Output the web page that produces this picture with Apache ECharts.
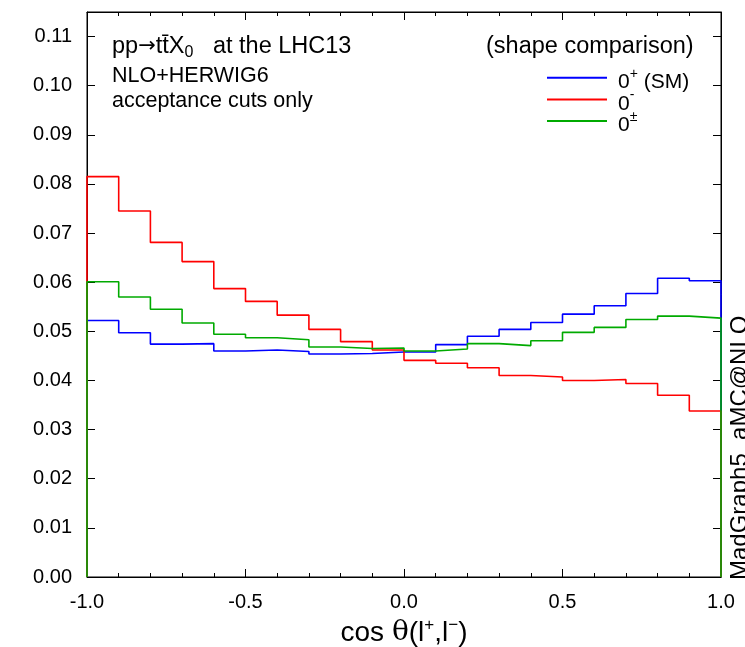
<!DOCTYPE html>
<html><head><meta charset="utf-8">
<script src="https://cdn.jsdelivr.net/npm/echarts@6/dist/echarts.min.js"></script>
<style>html,body{margin:0;padding:0;background:#fff}#c{width:745px;height:647px}</style>
</head><body><div id="c"></div>
<script>
const binEdges = [-1.0,-0.9,-0.8,-0.7,-0.6,-0.5,-0.4,-0.3,-0.2,-0.1,0.0,0.1,0.2,0.3,0.4,0.5,0.6,0.7,0.8,0.9,1.0];
const sm    = [0.0522,0.0497,0.0474,0.0475,0.0460,0.0462,0.0459,0.0454,0.0455,0.0458,0.0458,0.0473,0.0490,0.0504,0.0518,0.0535,0.0552,0.0577,0.0608,0.0603];
const minus = [0.0815,0.0745,0.0681,0.0642,0.0587,0.0561,0.0533,0.0504,0.0479,0.0462,0.0441,0.0435,0.0426,0.0410,0.0407,0.0400,0.0402,0.0394,0.0370,0.0338];
const mixed = [0.0601,0.0570,0.0545,0.0517,0.0494,0.0487,0.0483,0.0468,0.0465,0.0466,0.0460,0.0464,0.0475,0.0471,0.0481,0.0498,0.0508,0.0524,0.0531,0.0527];
const yTicks = ['0.00','0.01','0.02','0.03','0.04','0.05','0.06','0.07','0.08','0.09','0.10','0.11'];
const xTicks = ['-1.0','-0.5','0.0','0.5','1.0'];

function histPts(vals){
  const pts=[[binEdges[0],0]];
  for(let i=0;i<vals.length;i++) pts.push([binEdges[i+1],vals[i]]);
  pts.push([binEdges[binEdges.length-1],0]);
  return pts;
}
const FONT='Liberation Sans';
const chart=echarts.init(document.getElementById('c'));
const legRich={
  s:{width:0,lineHeight:30,verticalAlign:'top'},
  g:{width:6,lineHeight:22,verticalAlign:'bottom'},
  n:{fontSize:21,lineHeight:22,verticalAlign:'bottom',fontFamily:FONT,color:'#000'},
  sup:{fontSize:14,verticalAlign:'top',padding:[4,0,0,0],fontFamily:FONT,color:'#000'}
};
const axBase={
  type:'value',min:-1,max:1,interval:0.5,
  axisLine:{show:true,onZero:false,lineStyle:{color:'#000',width:1}},
  axisTick:{show:true,inside:true,length:8,lineStyle:{color:'#000'}},
  minorTick:{show:true,splitNumber:5,length:4,lineStyle:{color:'#000'}},
  splitLine:{show:false},minorSplitLine:{show:false}
};
const ayBase={
  type:'value',min:0,max:0.115,interval:0.01,
  axisLine:{show:true,onZero:false,lineStyle:{color:'#000',width:1}},
  axisTick:{show:true,inside:true,length:8,lineStyle:{color:'#000'}},
  splitLine:{show:false}
};
chart.setOption({
  animation:false,
  backgroundColor:'#fff',
  grid:{left:87,right:24,top:12,bottom:70,containLabel:false,outerBoundsMode:'none',show:true,borderColor:'#000',borderWidth:1,backgroundColor:'transparent'},
  title:[
    {text:'pp{ar|→}tt̄X{sub|0}   at the LHC13',left:112,top:33,padding:0,
     textStyle:{fontSize:23.5,lineHeight:28,fontWeight:'normal',fontFamily:FONT,color:'#000',
       rich:{ar:{fontSize:21,lineHeight:28,fontFamily:'DejaVu Sans',color:'#000'},
             sub:{fontSize:16,lineHeight:10,verticalAlign:'bottom',fontFamily:FONT,color:'#000'}}}},
    {text:'(shape comparison)',left:486,top:33,padding:0,
     textStyle:{fontSize:23.5,lineHeight:28,fontWeight:'normal',fontFamily:FONT,color:'#000'}},
    {text:'NLO+HERWIG6\nacceptance cuts only',left:112,top:64,padding:0,
     textStyle:{fontSize:21.5,lineHeight:25,fontWeight:'normal',fontFamily:FONT,color:'#000'}}
  ],
  legend:{
    orient:'vertical',left:547,top:62.7,padding:0,itemWidth:60,itemHeight:2,itemGap:-8.3,icon:'rect',
    data:['sm','minus','mixed'],
    formatter:function(n){
      if(n==='sm') return '{s|}{g|}{n|0}{sup|+}{n| (SM)}';
      if(n==='minus') return '{s|}{g|}{n|0}{sup|-}';
      return '{s|}{g|}{n|0}{sup|±}';
    },
    textStyle:{fontSize:21,fontFamily:FONT,color:'#000',rich:legRich}
  },
  xAxis:[
    Object.assign({},axBase,{position:'bottom',
      name:'cos {th|θ}(l{sup|+},l{sup|−})',nameLocation:'middle',nameGap:38,
      nameTextStyle:{fontSize:28,lineHeight:32,fontFamily:FONT,color:'#000',
        rich:{th:{fontSize:28,lineHeight:32,fontFamily:'DejaVu Serif',color:'#000'},
              sup:{fontSize:17,lineHeight:14,verticalAlign:'top',fontFamily:FONT,color:'#000'}}},
      axisLabel:{show:true,margin:15,fontSize:20,fontFamily:FONT,color:'#000',
        formatter:function(v){const i=Math.round((v+1)/0.5);return xTicks[i]!==undefined && Math.abs(v-(-1+i*0.5))<1e-6?xTicks[i]:'';}}}),
    Object.assign({},axBase,{position:'top',axisLabel:{show:false}})
  ],
  yAxis:[
    Object.assign({},ayBase,{position:'left',
      axisLabel:{show:true,margin:15,fontSize:20,fontFamily:FONT,color:'#000',
        formatter:function(v){const i=Math.round(v/0.01);return Math.abs(v-i*0.01)<1e-6&&yTicks[i]?yTicks[i]:'';}}}),
    Object.assign({},ayBase,{position:'right',axisLabel:{show:false}})
  ],
  graphic:[
    {type:'text',x:728,y:580,rotation:Math.PI/2,
     style:{text:'MadGraph5_aMC@NLO',fontSize:24,fontFamily:FONT,fill:'#000',textAlign:'left',textVerticalAlign:'top'}}
  ],
  series:[
    {name:'sm',type:'line',step:'start',showSymbol:false,data:histPts(sm),lineStyle:{color:'#0000ff',width:1.6},itemStyle:{color:'#0000ff'},z:3},
    {name:'minus',type:'line',step:'start',showSymbol:false,data:histPts(minus),lineStyle:{color:'#ff0000',width:1.6},itemStyle:{color:'#ff0000'},z:3},
    {name:'mixed',type:'line',step:'start',showSymbol:false,data:histPts(mixed),lineStyle:{color:'#00aa00',width:1.6},itemStyle:{color:'#00aa00'},z:3}
  ]
});
</script></body></html>
